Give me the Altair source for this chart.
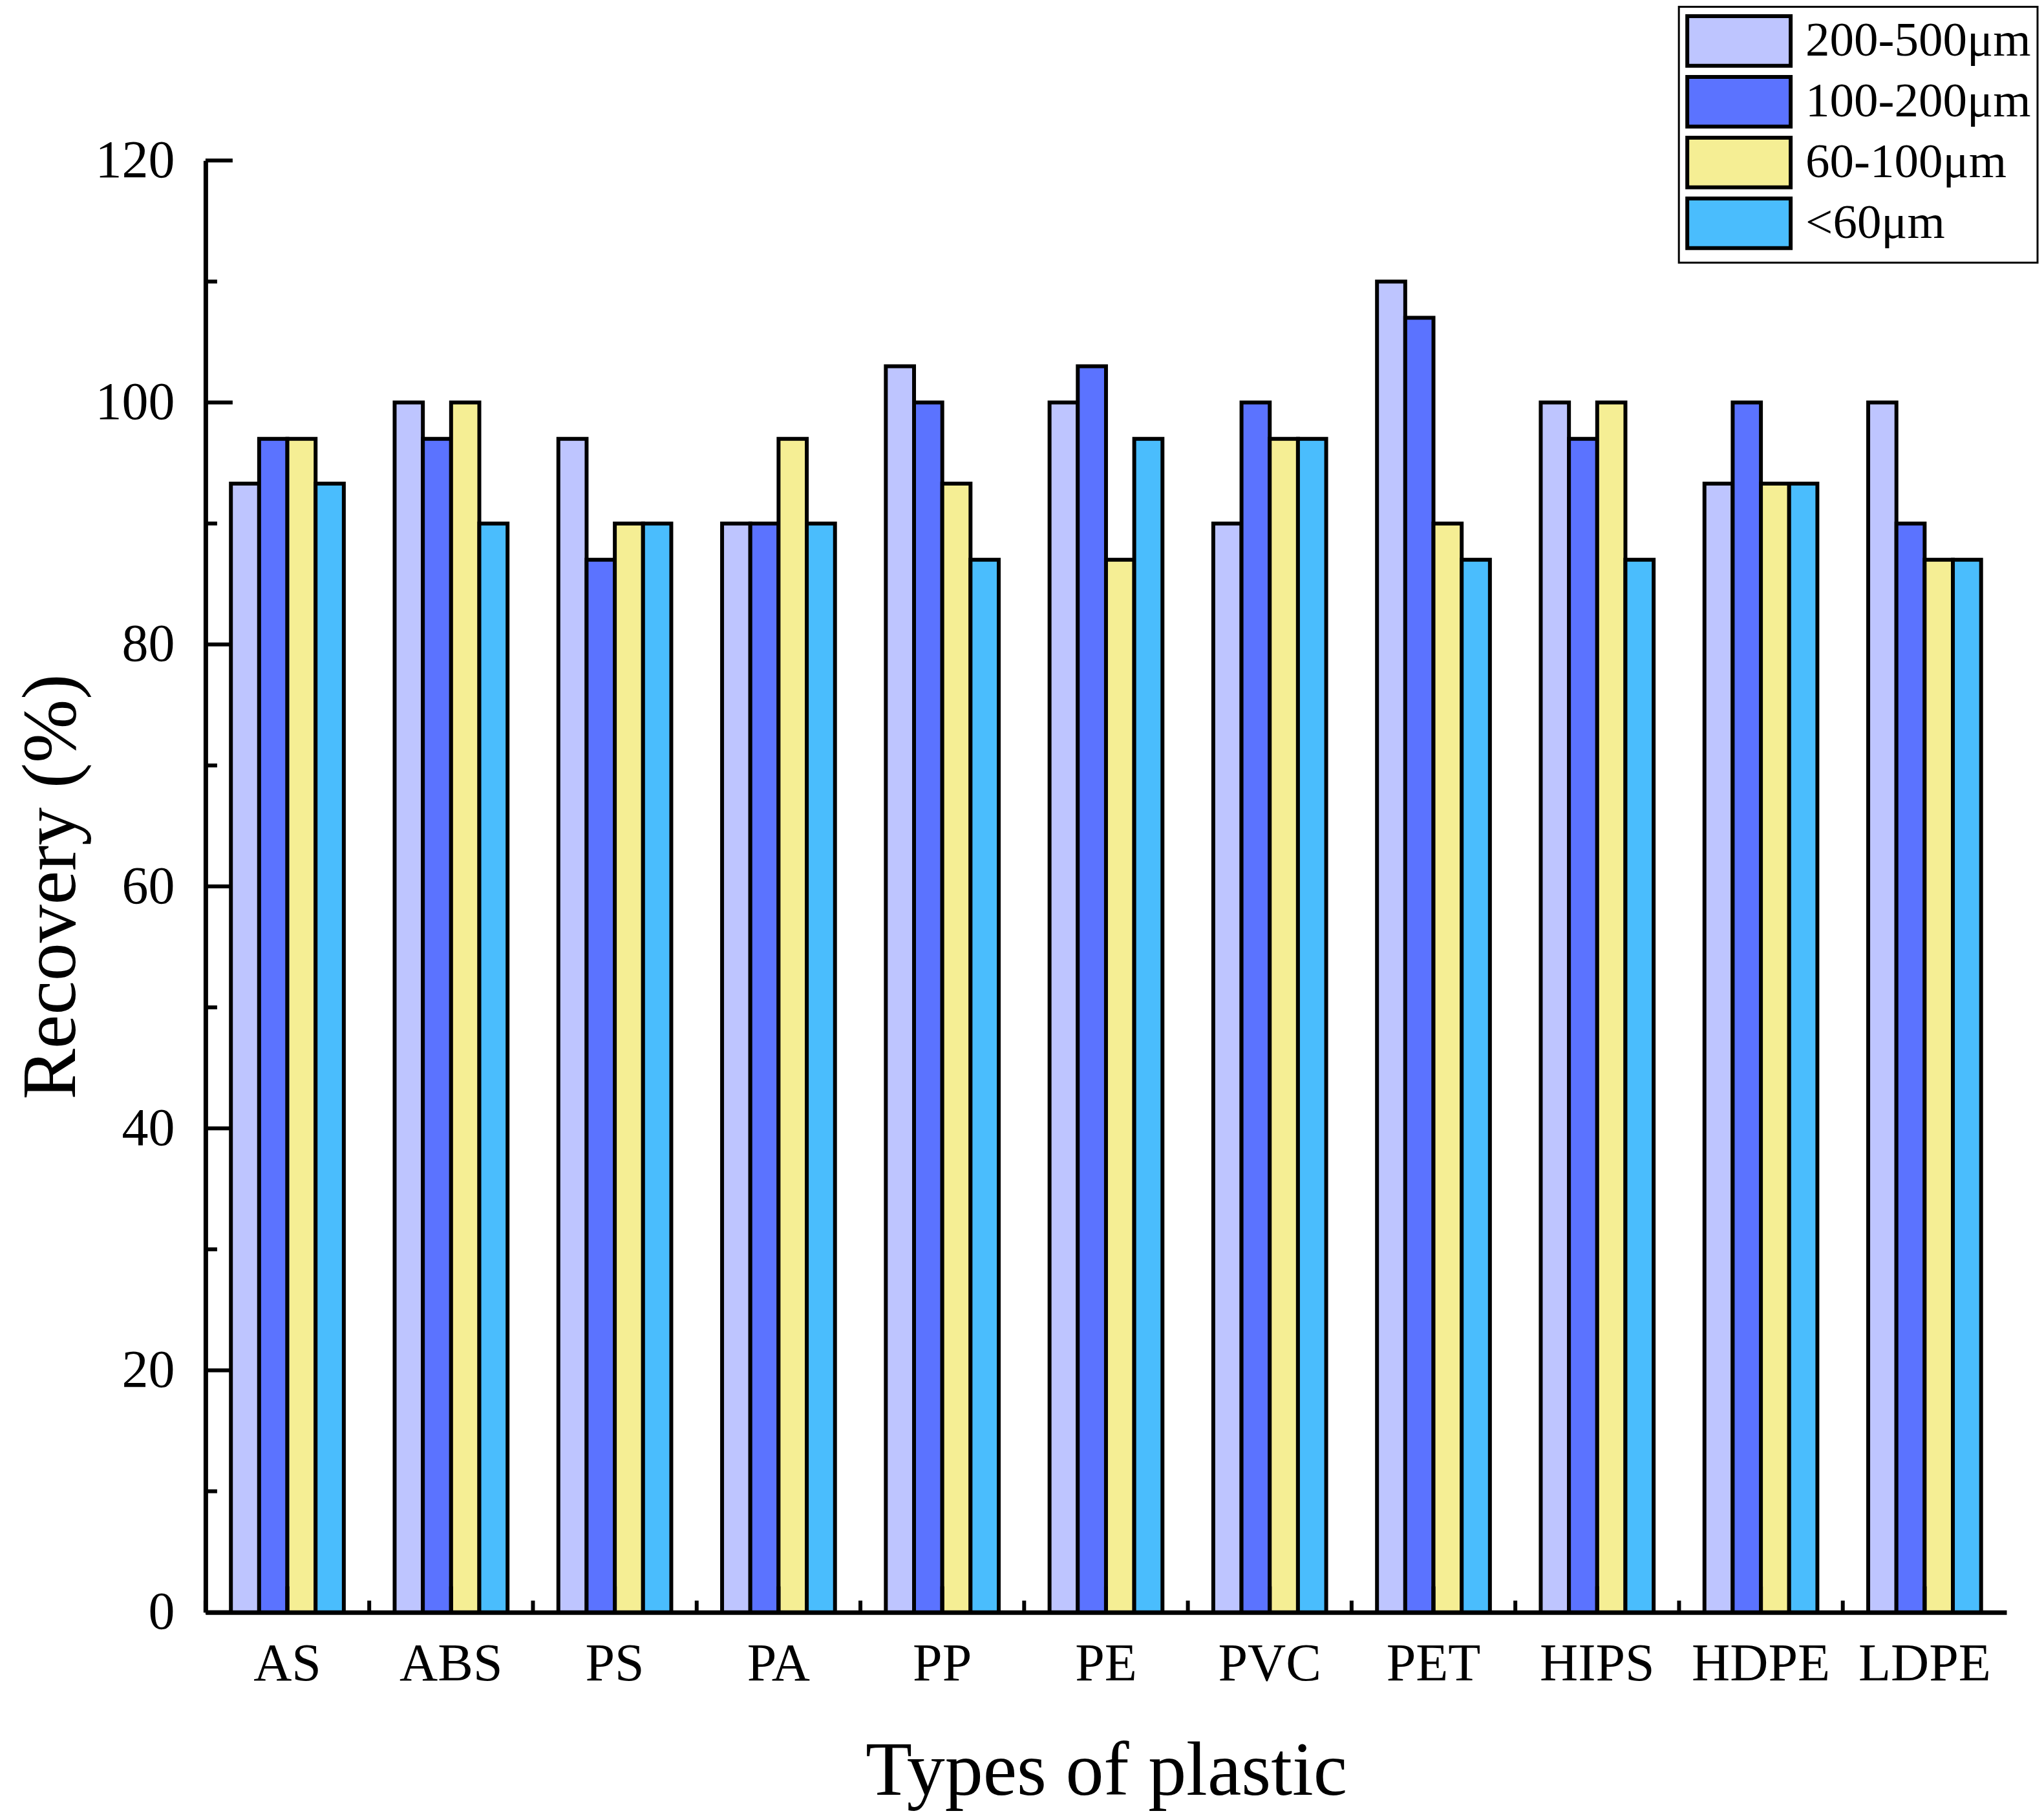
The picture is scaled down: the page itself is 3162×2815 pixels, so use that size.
import altair as alt
import pandas as pd

plastics = ["AS", "ABS", "PS", "PA", "PP", "PE", "PVC", "PET", "HIPS", "HDPE", "LDPE"]
sizes = ["200-500μm", "100-200μm", "60-100μm", "<60μm"]
r200_500 = [93.3, 100, 97, 90, 103, 100, 90, 110, 100, 93.3, 100]
r100_200 = [97, 97, 87, 90, 100, 103, 100, 107, 97, 100, 90]
r60_100 = [97, 100, 90, 97, 93.3, 87, 97, 90, 100, 93.3, 87]
r_lt60 = [93.3, 90, 90, 90, 87, 97, 97, 87, 87, 93.3, 87]
colors = ["#BEC5FF", "#5B73FF", "#F5EE94", "#4ABDFD"]
y_major = [0, 20, 40, 60, 80, 100, 120]
y_minor = [10, 30, 50, 70, 90, 110]

W, H = 2787, 2246
FONT = "Liberation Serif"

rows = []
for s, vals in zip(sizes, [r200_500, r100_200, r60_100, r_lt60]):
    for p, v in zip(plastics, vals):
        rows.append({"plastic": p, "size": s, "value": v})
df = pd.DataFrame(rows)

xscale = alt.Scale(domain=plastics, paddingInner=0, paddingOuter=0)
yscale = alt.Scale(domain=[0, 120], nice=False, zero=True)
ax_x = alt.Axis(title="Types of plastic", labelAngle=0, ticks=False, labelLimit=1000,
                labelPadding=40, titlePadding=68)
ax_y = alt.Axis(title="Recovery (%)", values=y_major, ticks=False,
                labelPadding=48, titlePadding=6)

bars = alt.Chart(df).mark_bar(stroke="black", strokeWidth=6, strokeJoin="miter").encode(
    x=alt.X("plastic:N", sort=plastics, scale=xscale, axis=ax_x),
    xOffset=alt.XOffset("size:N", sort=sizes,
                        scale=alt.Scale(domain=sizes, paddingInner=0, paddingOuter=0.9)),
    y=alt.Y("value:Q", scale=yscale, axis=ax_y),
    color=alt.Color("size:N", sort=sizes, scale=alt.Scale(domain=sizes, range=colors),
                    legend=alt.Legend(title=None, orient="none", legendX=2280, legendY=-238,
                                      strokeColor="black", padding=10,
                                      symbolType="M-1,-0.96H3V0.96H-1Z", symbolSize=6400,
                                      symbolStrokeColor="black", symbolStrokeWidth=6,
                                      symbolOpacity=1,
                                      labelFont=FONT, labelFontSize=75, labelColor="black",
                                      labelOffset=100, labelLimit=1000, rowPadding=-8)),
)

dmaj = pd.DataFrame({"value": y_major})
dmin = pd.DataFrame({"value": y_minor})
yt_major = alt.Chart(dmaj).mark_rule(color="black", strokeWidth=6).encode(
    y=alt.Y("value:Q", scale=yscale, axis=ax_y), x=alt.value(0), x2=alt.value(42))
yt_minor = alt.Chart(dmin).mark_rule(color="black", strokeWidth=6).encode(
    y=alt.Y("value:Q", scale=yscale, axis=ax_y), x=alt.value(0), x2=alt.value(18))

dcat = pd.DataFrame({"plastic": plastics})
xt_minor = alt.Chart(dcat).mark_rule(color="black", strokeWidth=6).encode(
    x=alt.X("plastic:N", sort=plastics, scale=xscale, bandPosition=0, axis=ax_x),
    y=alt.value(H), y2=alt.value(H - 18))
xt_major = alt.Chart(dcat).mark_rule(color="black", strokeWidth=6).encode(
    x=alt.X("plastic:N", sort=plastics, scale=xscale, bandPosition=0.5, axis=ax_x),
    y=alt.value(H), y2=alt.value(H - 40))

chart = alt.layer(bars, yt_major, yt_minor, xt_minor, xt_major).properties(
    width=W, height=H, padding={"left": 14, "top": 0, "right": 0, "bottom": 12},
    background="white"
).configure_view(stroke=None).configure_axis(
    domainColor="black", domainWidth=7, grid=False,
    labelFont=FONT, labelFontSize=82, labelColor="black",
    titleFont=FONT, titleFontSize=118, titleFontWeight="normal", titleColor="black",
).configure_legend(strokeWidth=3)

chart.save("out.html", embed_options={"renderer": "svg", "actions": False})
